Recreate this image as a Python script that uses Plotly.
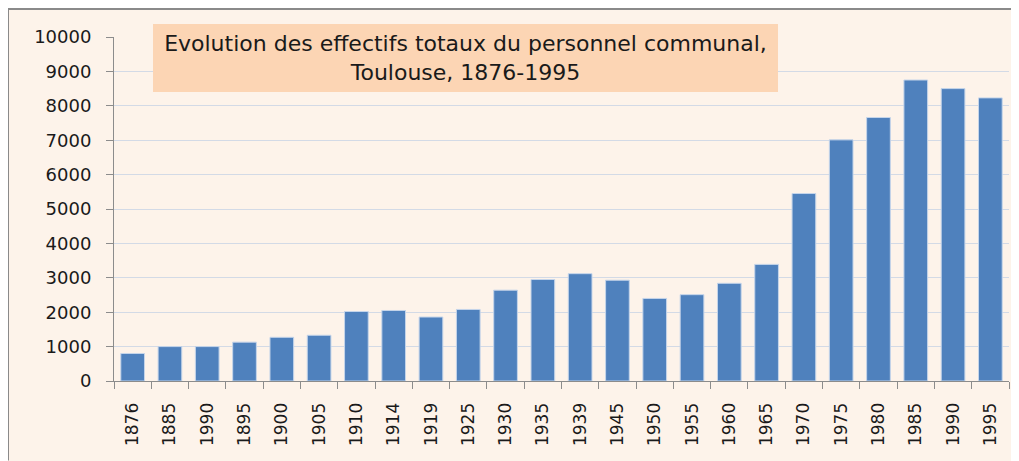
import plotly.graph_objects as go

years = ["1876", "1885", "1990", "1895", "1900", "1905", "1910", "1914", "1919", "1925",
         "1930", "1935", "1939", "1945", "1950", "1955", "1960", "1965", "1970", "1975",
         "1980", "1985", "1990", "1995"]
effectifs = [800, 1000, 1000, 1130, 1270, 1330, 2020, 2050, 1860, 2080,
             2640, 2950, 3120, 2930, 2400, 2510, 2840, 3390, 5450, 7010,
             7660, 8750, 8500, 8230]
ytick_vals = list(range(0, 10001, 1000))

title_text = "Evolution des effectifs totaux du personnel communal,<br>Toulouse, 1876-1995"

# the page body adds an 8px margin, so the figure is 8px smaller than the window
W, H = 1011, 453
L, R, T, B = 106, 10, 29, 79.5
pw, ph = W - L - R, H - T - B

def px_x(px):
    return (px - L) / pw

def px_y(py):
    return (H - B - py) / ph

bg = "#FDF3EA"
axis_grey = "#8C8C8C"
font_main = "DejaVu Sans"

fig = go.Figure()
fig.add_trace(go.Bar(
    x=list(range(len(years))), y=effectifs,
    marker=dict(color="#4F81BD", line=dict(color="#C5D5EA", width=1)),
    showlegend=False,
))

fig.update_layout(
    width=W, height=H,
    margin=dict(l=L, r=R, t=T, b=B),
    paper_bgcolor=bg,
    plot_bgcolor=bg,
    bargap=0.365,
    font=dict(family=font_main, size=16, color="#1A1A1A"),
    xaxis=dict(
        range=[-0.5, len(years) - 0.5],
        tickvals=list(range(len(years))), ticktext=years,
        tickangle=-90, tickfont=dict(size=17),
        ticks="outside", ticklen=7, tickcolor="rgba(0,0,0,0)",
        ticklabelstandoff=7,
        minor=dict(ticks="outside", tick0=0.5, dtick=1, ticklen=7,
                   tickcolor=axis_grey, showgrid=False),
        showline=True, linecolor=axis_grey, linewidth=1,
        showgrid=False, zeroline=False,
    ),
    yaxis=dict(
        range=[0, 10000], tickvals=ytick_vals, tickformat="d",
        tickfont=dict(size=18),
        ticks="outside", ticklen=7, tickcolor=axis_grey,
        ticklabelstandoff=11,
        showline=True, linecolor=axis_grey, linewidth=1,
        showgrid=True, gridcolor="#D3DAE6", gridwidth=1,
        zeroline=False,
    ),
    shapes=[
        dict(type="line", xref="paper", yref="paper",
             x0=px_x(0), x1=px_x(W), y0=px_y(1), y1=px_y(1),
             line=dict(color="#8A8A8A", width=2)),
        dict(type="line", xref="paper", yref="paper",
             x0=px_x(0), x1=px_x(0), y0=px_y(H), y1=px_y(1),
             line=dict(color="#8A8A8A", width=2)),
    ],
    annotations=[
        dict(text=title_text, xref="paper", yref="paper",
             x=px_x(457.5), y=px_y(50), xanchor="center", yanchor="middle",
             width=625, height=68, bgcolor="#FCD5B4", borderpad=0, borderwidth=0,
             showarrow=False, align="center", valign="middle",
             font=dict(family=font_main, size=22, color="#1A1A1A")),
    ],
)

fig.write_html("out.html")
